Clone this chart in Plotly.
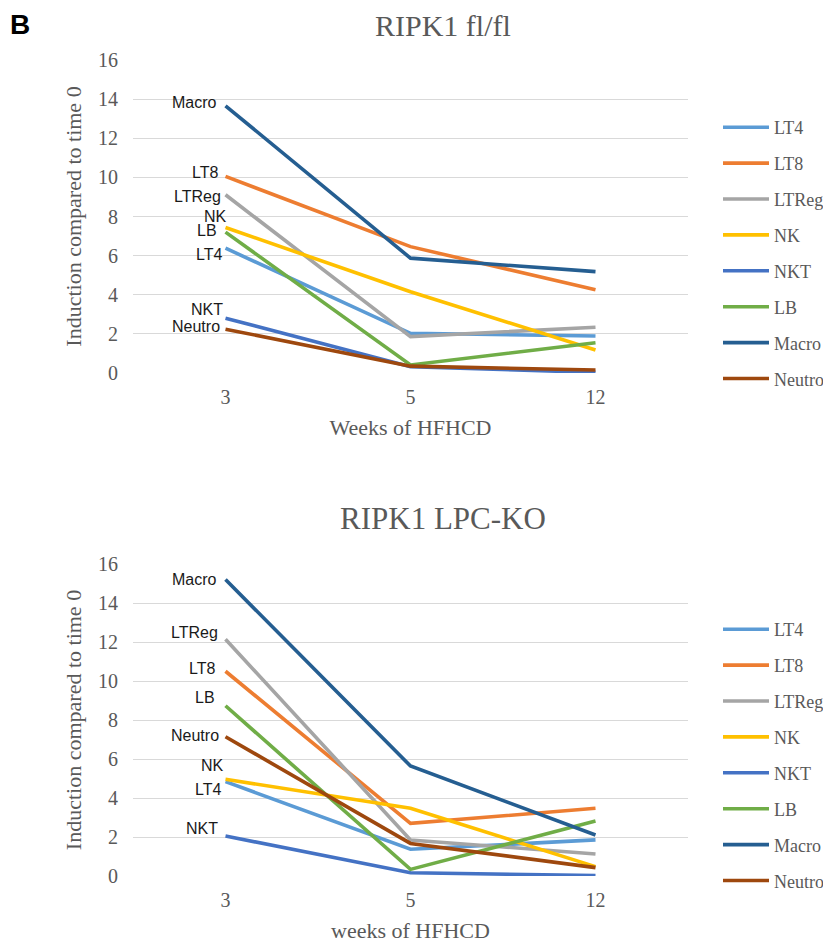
import plotly.graph_objects as go

weeks = ["3", "5", "12"]
series_names = ["LT4", "LT8", "LTReg", "NK", "NKT", "LB", "Macro", "Neutro"]
colors = ["#5B9BD5", "#ED7D31", "#A5A5A5", "#FFC000", "#4472C4", "#70AD47", "#255E91", "#9E480E"]

# RIPK1 fl/fl
top_LT4 = [6.38, 2.03, 1.89]
top_LT8 = [10.05, 6.46, 4.25]
top_LTReg = [9.11, 1.86, 2.34]
top_NK = [7.44, 4.15, 1.18]
top_NKT = [2.80, 0.32, 0.03]
top_LB = [7.20, 0.41, 1.55]
top_Macro = [13.66, 5.87, 5.18]
top_Neutro = [2.24, 0.35, 0.15]

# RIPK1 LPC-KO
bot_LT4 = [4.84, 1.37, 1.85]
bot_LT8 = [10.50, 2.70, 3.47]
bot_LTReg = [12.14, 1.85, 1.13]
bot_NK = [4.96, 3.47, 0.48]
bot_NKT = [2.05, 0.17, 0.02]
bot_LB = [8.73, 0.34, 2.82]
bot_Macro = [15.20, 5.64, 2.10]
bot_Neutro = [7.14, 1.67, 0.43]

top_values = [top_LT4, top_LT8, top_LTReg, top_NK, top_NKT, top_LB, top_Macro, top_Neutro]
bot_values = [bot_LT4, bot_LT8, bot_LTReg, bot_NK, bot_NKT, bot_LB, bot_Macro, bot_Neutro]

# label offsets (xshift, yshift) for the labels at week 3
top_label_shift = {"LT4": (-2, -6), "LT8": (-6, 4), "LTReg": (-3, -2), "NK": (3, 11),
                   "NKT": (-1, 9), "LB": (-7, 2), "Macro": (-7, 3), "Neutro": (-4, 3)}
bot_label_shift = {"LT4": (-3, -8), "LT8": (-9, 3), "LTReg": (-6, 7), "NK": (0, 14),
                   "NKT": (-6, 8), "LB": (-9, 8), "Macro": (-7, 0), "Neutro": (-5, 1)}

# page has an 8px body margin: figure is sized/offset to compensate
OFF = 8
W, H = 831 - OFF, 945 - OFF
def px_x(p):
    return (p - OFF) / W
def px_y(p):
    return 1 - (p - OFF) / H

serif = "Liberation Serif, Times New Roman, serif"
sans = "Liberation Sans, Arial, sans-serif"
grey = "#595959"

fig = go.Figure()

for i, (name, col) in enumerate(zip(series_names, colors)):
    fig.add_trace(go.Scatter(x=weeks, y=top_values[i], mode="lines", name=name,
                             line=dict(color=col, width=3.6), xaxis="x", yaxis="y",
                             legend="legend", legendgroup="top_" + name))
for i, (name, col) in enumerate(zip(series_names, colors)):
    fig.add_trace(go.Scatter(x=weeks, y=bot_values[i], mode="lines", name=name,
                             line=dict(color=col, width=3.6), xaxis="x2", yaxis="y2",
                             legend="legend2", legendgroup="bot_" + name))

first_idx = weeks.index(weeks[0])
annotations = []
for i, name in enumerate(series_names):
    xs, ys = top_label_shift[name]
    annotations.append(dict(x=first_idx, y=top_values[i][0], xref="x", yref="y", text=name,
                            showarrow=False, xanchor="right", yanchor="middle",
                            xshift=xs, yshift=ys, font=dict(family=sans, size=16, color="#1a1a1a")))
    xs, ys = bot_label_shift[name]
    annotations.append(dict(x=first_idx, y=bot_values[i][0], xref="x2", yref="y2", text=name,
                            showarrow=False, xanchor="right", yanchor="middle",
                            xshift=xs, yshift=ys, font=dict(family=sans, size=16, color="#1a1a1a")))

annotations += [
    dict(x=px_x(443), y=px_y(26), xref="paper", yref="paper", text="RIPK1 fl/fl", showarrow=False,
         xanchor="center", yanchor="middle", font=dict(family=serif, size=30, color=grey)),
    dict(x=px_x(443), y=px_y(518), xref="paper", yref="paper", text="RIPK1 LPC-KO", showarrow=False,
         xanchor="center", yanchor="middle", font=dict(family=serif, size=31, color=grey)),
    dict(x=px_x(8), y=px_y(24), xref="paper", yref="paper", text="<b>B</b>", showarrow=False,
         xanchor="left", yanchor="middle", font=dict(family=sans, size=28, color="black")),
]

xd = [px_x(133), px_x(688)]
axis_common = dict(showline=False, zeroline=False, automargin=False,
                   tickfont=dict(family=serif, size=20, color=grey))

legend_common = dict(xanchor="left", yanchor="top", tracegroupgap=9.5, itemwidth=46,
                     font=dict(family=serif, size=18, color=grey), bgcolor="rgba(0,0,0,0)")

fig.update_layout(
    width=W, height=H, margin=dict(l=0, r=0, t=0, b=0, autoexpand=False),
    paper_bgcolor="white", plot_bgcolor="white",
    xaxis=dict(domain=xd, anchor="y", type="category", range=[-0.5, 2.5], showgrid=False, ticks="",
               ticklabelstandoff=10,
               title=dict(text="Weeks of HFHCD", standoff=12, font=dict(family=serif, size=22, color=grey)),
               **axis_common),
    yaxis=dict(domain=[px_y(373), px_y(60)], anchor="x", range=[0, 16], dtick=2,
               showgrid=True, gridcolor="#D9D9D9", gridwidth=1, ticks="", ticklabelstandoff=14,
               title=dict(text="Induction compared to time 0", standoff=10,
                          font=dict(family=serif, size=22, color=grey)),
               **axis_common),
    xaxis2=dict(domain=xd, anchor="y2", type="category", range=[-0.5, 2.5], showgrid=False, ticks="",
                ticklabelstandoff=10,
                title=dict(text="weeks of HFHCD", standoff=12, font=dict(family=serif, size=22, color=grey)),
                **axis_common),
    yaxis2=dict(domain=[px_y(876), px_y(564)], anchor="x2", range=[0, 16], dtick=2,
                showgrid=True, gridcolor="#D9D9D9", gridwidth=1, ticks="", ticklabelstandoff=14,
                title=dict(text="Induction compared to time 0", standoff=10,
                           font=dict(family=serif, size=22, color=grey)),
                **axis_common),
    legend=dict(x=px_x(718), y=px_y(109), **legend_common),
    legend2=dict(x=px_x(718), y=px_y(611), **legend_common),
    annotations=annotations,
)

fig.write_html("out.html")
